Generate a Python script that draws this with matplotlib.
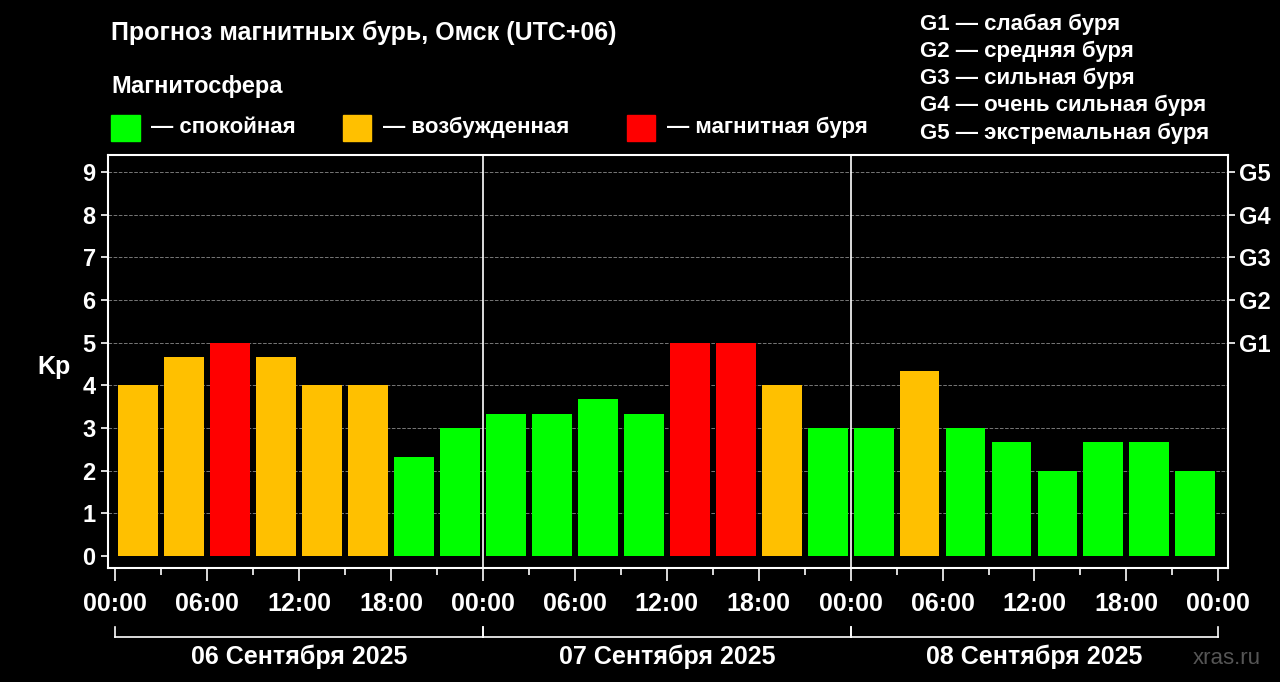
import matplotlib
matplotlib.use("Agg")
import matplotlib.pyplot as plt
from matplotlib.patches import Rectangle

plt.rcParams['font.family'] = ['Liberation Sans', 'DejaVu Sans']

# Kp по 3-часовым интервалам, три дня
kp_values = [4, 4.67, 5, 4.67, 4, 4, 2.33, 3,
             3.33, 3.33, 3.67, 3.33, 5, 5, 4, 3,
             3, 4.33, 3, 2.67, 2, 2.67, 2.67, 2]
days = ["06 Сентября 2025", "07 Сентября 2025", "08 Сентября 2025"]
hour_labels = ["00:00", "06:00", "12:00", "18:00"]
g_labels = ["G1", "G2", "G3", "G4", "G5"]
legend_items = [("#00ff00", "— спокойная"), ("#ffc000", "— возбужденная"),
                ("#ff0000", "— магнитная буря")]
g_text = ["G1 — слабая буря", "G2 — средняя буря", "G3 — сильная буря",
          "G4 — очень сильная буря", "G5 — экстремальная буря"]


def color_for(v):
    if v >= 5:
        return "#ff0000"
    if v >= 4:
        return "#ffc000"
    return "#00ff00"


fig = plt.figure(figsize=(12.8, 6.82), dpi=100, facecolor="black")
ax = fig.add_axes([0.084, 0.167, 0.875, 0.606], facecolor="black")

xs = [3 * i + 1.5 for i in range(len(kp_values))]
ax.bar(xs, kp_values, width=2.6, color=[color_for(v) for v in kp_values], zorder=3)

ax.set_xlim(-0.5, 72.6)
ax.set_ylim(-0.28, 9.4)
for y in range(1, 10):
    ax.axhline(y, color="#777777", ls="--", lw=0.7, zorder=1)
for x in (24, 48):
    ax.axvline(x, color="white", lw=1.2, zorder=4)
for s in ax.spines.values():
    s.set_color("white")
    s.set_linewidth(1.5)

ax.set_yticks(range(10))
ax.tick_params(axis="y", colors="white", labelsize=17, length=5, width=1.2)
for lab in ax.get_yticklabels():
    lab.set_fontweight("bold")
fig.text(0.042, 0.462, "Kp", color="white", fontsize=18, fontweight="bold",
         ha="center", va="center")

ax2 = ax.twinx()
ax2.set_ylim(ax.get_ylim())
ax2.set_yticks([5, 6, 7, 8, 9])
ax2.set_yticklabels(g_labels)
ax2.tick_params(axis="y", colors="white", labelsize=17, length=5, width=1.2)
for lab in ax2.get_yticklabels():
    lab.set_fontweight("bold")
for s in ax2.spines.values():
    s.set_visible(False)

ax.set_xticks(range(0, 73, 6))
ax.set_xticklabels([hour_labels[(h // 6) % 4] for h in range(0, 73, 6)])
ax.set_xticks(range(0, 73, 3), minor=True)
ax.tick_params(axis="x", colors="white", labelsize=18, length=9, width=1.2, pad=8)
ax.tick_params(axis="x", which="minor", colors="white", length=5, width=1.2)
for lab in ax.get_xticklabels():
    lab.set_fontweight("bold")

# скобки дат
trans = ax.get_xaxis_transform()
yb = -0.167
for i, d in enumerate(days):
    x0, x1 = 24 * i, 24 * (i + 1)
    ax.plot([x0, x1], [yb, yb], color="white", lw=1.2, transform=trans, clip_on=False)
    for x in (x0, x1):
        ax.plot([x, x], [yb, yb + 0.025], color="white", lw=1.2, transform=trans, clip_on=False)
    ax.text((x0 + x1) / 2, yb - 0.018, d, color="white", fontsize=18, fontweight="bold",
            ha="center", va="top", transform=trans)

fig.text(0.087, 0.952, "Прогноз магнитных бурь, Омск (UTC+06)", color="white",
         fontsize=18, fontweight="bold", va="center")
fig.text(0.087, 0.873, "Магнитосфера", color="white", fontsize=17, fontweight="bold", va="center")
lx = [0.087, 0.268, 0.49]
for (c, t), x in zip(legend_items, lx):
    fig.patches.append(Rectangle((x, 0.793), 0.022, 0.039, color=c, transform=fig.transFigure))
    fig.text(x + 0.031, 0.813, t, color="white", fontsize=16, fontweight="bold", va="center")
for i, t in enumerate(g_text):
    fig.text(0.719, 0.965 - i * 0.04, t, color="white", fontsize=16, fontweight="bold", va="center")
fig.text(0.985, 0.035, "xras.ru", color="#555555", fontsize=16, ha="right", va="center")

fig.savefig("out.png", dpi=100, facecolor="black")
